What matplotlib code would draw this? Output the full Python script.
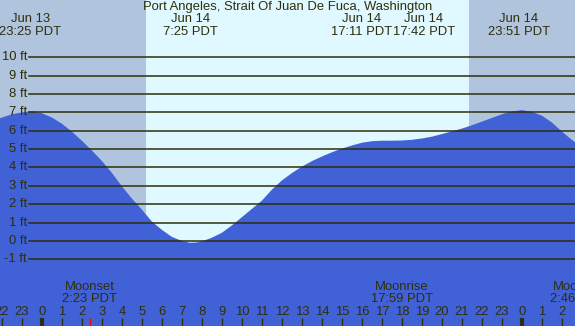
# Port Angeles tide chart, Jun 14

import numpy as np
import matplotlib.pyplot as plt
from matplotlib.transforms import blended_transform_factory

plt.rcParams['font.family'] = ['Liberation Sans', 'DejaVu Sans']

# hours relative to Jun 14 00:00 PDT, heights in ft
hours = [-3, -2.5, -2, -1.5, -1, -0.5, 0, 0.5, 1, 1.5, 2, 2.5, 3, 3.5, 4, 4.5, 5, 5.5,
         6, 6.5, 7, 7.4, 7.75, 8, 8.5, 9, 9.5, 10, 10.5, 11, 11.5, 12, 12.5, 13, 13.5,
         14, 14.5, 15, 15.5, 16, 16.5, 17, 17.5, 18, 18.5, 19, 19.5, 20, 20.5, 21,
         21.5, 22, 22.5, 23, 23.5, 24, 24.5, 25, 25.5, 26, 26.5, 27]
heights = [6.3, 6.5, 6.72, 6.9, 7.0, 7.07, 6.95, 6.72, 6.38, 5.95, 5.45, 4.92, 4.35,
           3.7, 2.97, 2.3, 1.7, 1.05, 0.6, 0.22, 0.0, -0.1, -0.08, -0.02, 0.18, 0.45,
           0.85, 1.3, 1.75, 2.2, 2.8, 3.3, 3.7, 4.05, 4.35, 4.6, 4.83, 5.03, 5.2, 5.35,
           5.43, 5.46, 5.46, 5.47, 5.51, 5.58, 5.68, 5.82, 5.97, 6.12, 6.3, 6.5, 6.7,
           6.9, 7.05, 7.12, 7.03, 6.82, 6.45, 5.95, 5.5, 5.1]

# tide events for the top labels
tide_times = [-0.583, 7.417, 17.183, 17.7, 23.85]
tide_dates = ["Jun 13", "Jun 14", "Jun 14", "Jun 14", "Jun 14"]
tide_labels = ["23:25 PDT", "7:25 PDT", "17:11 PDT", "17:42 PDT", "23:51 PDT"]

sunrise = 5.2
sunset = 21.35

moon_times = [2.383, 17.983, 26.767]
moon_names = ["Moonset", "Moonrise", "Moonset"]
moon_labels = ["2:23 PDT", "17:59 PDT", "2:46 PDT"]

ft_levels = list(range(-1, 11))
hour_ticks = list(range(-2, 27))

title = "Port Angeles, Strait Of Juan De Fuca, Washington"

night = "#b0c4de"
day = "#e0f8ff"
water = "#4162d7"
ink = "#2e2e0a"
fs = 9.4

fig = plt.figure(figsize=(5.75, 3.26), dpi=100)
ax = fig.add_axes([0, 0, 1, 1])
ax.set_xlim(-2.1, 26.65)
ax.set_ylim(-4.63, 13.12)
ax.axis("off")

ax.axvspan(-5, sunrise, color=night, lw=0)
ax.axvspan(sunrise, sunset, color=day, lw=0)
ax.axvspan(sunset, 30, color=night, lw=0)

ax.fill_between(hours, heights, -10, color=water, lw=0)

tr = blended_transform_factory(ax.transAxes, ax.transData)
for ft in ft_levels:
    ax.axhline(ft, xmin=29 / 575, xmax=1, color=ink, lw=1.1)
    ax.text(27 / 575, ft, f"{ft} ft", transform=tr, ha="right", va="center",
            fontsize=fs, color=ink)

ax.text(0.5, 0.979, title, transform=ax.transAxes, ha="center", va="center",
        fontsize=fs, color=ink)

# the two 17:xx labels would overlap, push them apart
nudge = {2: -1.2, 3: 1.4}
tb = blended_transform_factory(ax.transData, ax.transAxes)
for i, (t, d, lab) in enumerate(zip(tide_times, tide_dates, tide_labels)):
    x = t + nudge.get(i, 0)
    ax.text(x, 0.942, d, transform=tb, ha="center", va="center", fontsize=fs, color=ink)
    ax.text(x, 0.903, lab, transform=tb, ha="center", va="center", fontsize=fs, color=ink)

for t, name, lab in zip(moon_times, moon_names, moon_labels):
    ax.text(t, 0.12, name, transform=tb, ha="center", va="center", fontsize=fs, color=ink)
    ax.text(t, 0.083, lab, transform=tb, ha="center", va="center", fontsize=fs, color=ink)
    ax.vlines(t, 0, 8 / 326, transform=tb, color="red", lw=1)

for h in hour_ticks:
    midnight = h % 24 == 0
    ax.vlines(h, 0, 8 / 326, transform=tb, color=ink, lw=3 if midnight else 1)
    ax.text(h, 0.044, str(h % 24), transform=tb, ha="center", va="center",
            fontsize=fs, color=ink)

fig.savefig("out.png", dpi=100)
